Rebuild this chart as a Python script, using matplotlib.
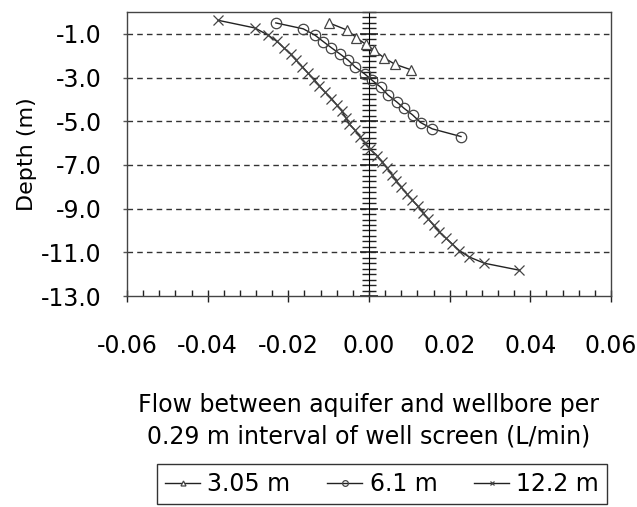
import matplotlib
matplotlib.use('Agg')
import matplotlib.pyplot as plt
from matplotlib.ticker import MultipleLocator, FormatStrFormatter

plt.rcParams['font.family'] = ['DejaVu Sans']
plt.rcParams['axes.unicode_minus'] = False

# 3.05 m
depth_305 = [-0.50, -0.83, -1.18, -1.48, -1.74, -2.09, -2.39, -2.65]
flow_305 = [-0.0099, -0.0054, -0.0031, -0.0008, 0.0012, 0.0037, 0.0064, 0.0105]

# 6.1 m
depth_61 = [-0.50, -0.77, -1.06, -1.36, -1.64, -1.92, -2.20, -2.52, -2.83,
            -3.13, -3.44, -3.80, -4.12, -4.41, -4.71, -5.06, -5.35, -5.70]
flow_61 = [-0.0231, -0.0163, -0.0134, -0.0113, -0.0093, -0.0072, -0.0052, -0.0034, -0.0011,
           0.0008, 0.0029, 0.0047, 0.0069, 0.0087, 0.0108, 0.0128, 0.0157, 0.0228]

# 12.2 m
depth_122 = [-0.38, -0.73, -1.06, -1.35, -1.64, -1.93, -2.22, -2.51, -2.80, -3.09,
             -3.38, -3.67, -3.96, -4.25, -4.54, -4.83, -5.12, -5.41, -5.70, -5.99,
             -6.28, -6.57, -6.86, -7.15, -7.44, -7.73, -8.02, -8.31, -8.60, -8.89,
             -9.18, -9.47, -9.76, -10.05, -10.34, -10.63, -10.92, -11.21, -11.50, -11.82]
flow_122 = [-0.0374, -0.0283, -0.0250, -0.0228, -0.0211, -0.0194, -0.0180, -0.0165, -0.0151, -0.0136,
            -0.0123, -0.0109, -0.0093, -0.0080, -0.0067, -0.0058, -0.0049, -0.0035, -0.0022, -0.0010,
            0.0002, 0.0020, 0.0033, 0.0045, 0.0057, 0.0068, 0.0080, 0.0093, 0.0107, 0.0121,
            0.0134, 0.0147, 0.0160, 0.0174, 0.0190, 0.0207, 0.0224, 0.0248, 0.0286, 0.0373]

ink = '#222222'
fs = 17

fig = plt.figure(figsize=(6.37, 5.07), dpi=100)
ax = fig.add_axes([127/637, 1 - 296/507, 484/637, 284/507])

ax.plot(flow_305, depth_305, color=ink, lw=1, marker='^', ms=6.5, mfc='white', mec='#444444', mew=0.9, label='3.05 m')
ax.plot(flow_61, depth_61, color=ink, lw=1, marker='o', ms=7.5, mfc='none', mec='#444444', mew=0.9, label='6.1 m')
ax.plot(flow_122, depth_122, color=ink, lw=1, marker='x', ms=6.5, mec='#444444', mew=0.9, label='12.2 m')

ax.set_xlim(-0.06, 0.06)
ax.set_ylim(-13, 0)
ax.xaxis.set_major_locator(MultipleLocator(0.02))
ax.xaxis.set_minor_locator(MultipleLocator(0.004))
ax.xaxis.set_major_formatter(FormatStrFormatter('%.2f'))
ax.set_yticks([-1, -3, -5, -7, -9, -11, -13])
ax.yaxis.set_major_formatter(FormatStrFormatter('%.1f'))

for y in [-1, -3, -5, -7, -9, -11]:
    ax.axhline(y, color='#333333', lw=1, ls=(0, (4, 3)), zorder=0)

for s in ax.spines.values():
    s.set_color('#444444')
    s.set_linewidth(1)

ax.tick_params(axis='x', which='major', direction='inout', length=9, width=1, color=ink,
               labelsize=fs, pad=23)
ax.tick_params(axis='x', which='minor', direction='in', length=4, width=1, color=ink)
ax.tick_params(axis='y', which='major', direction='out', length=3, width=1, color='#555555',
               labelsize=fs, pad=15)

# vertical axis crossing at zero
sec = ax.secondary_yaxis(0.5)
sec.set_yticks([-1, -3, -5, -7, -9, -11, -13])
sec.yaxis.set_minor_locator(MultipleLocator(0.25))
sec.tick_params(which='major', direction='inout', length=13, width=1.2, color=ink,
                labelleft=False, labelright=False)
sec.tick_params(which='minor', direction='inout', length=10, width=1, color=ink)
sec.spines['left'].set_color(ink)
sec.spines['left'].set_linewidth(1.2)

ax.set_xlabel('Flow between aquifer and wellbore per\n0.29 m interval of well screen (L/min)',
              fontsize=fs, labelpad=25, linespacing=1.42)
ax.set_ylabel('Depth (m)', fontsize=16)
ax.yaxis.set_label_coords(-0.186, 0.5)

fig.legend(loc='center', bbox_to_anchor=(382/637, 1 - 484/507), ncol=3, fontsize=fs,
           frameon=True, fancybox=False, edgecolor='#333333', framealpha=1,
           markerscale=0.55, handlelength=1.5, handletextpad=0.3, columnspacing=1.55,
           borderpad=0.35)

fig.savefig('out.png', dpi=100)
